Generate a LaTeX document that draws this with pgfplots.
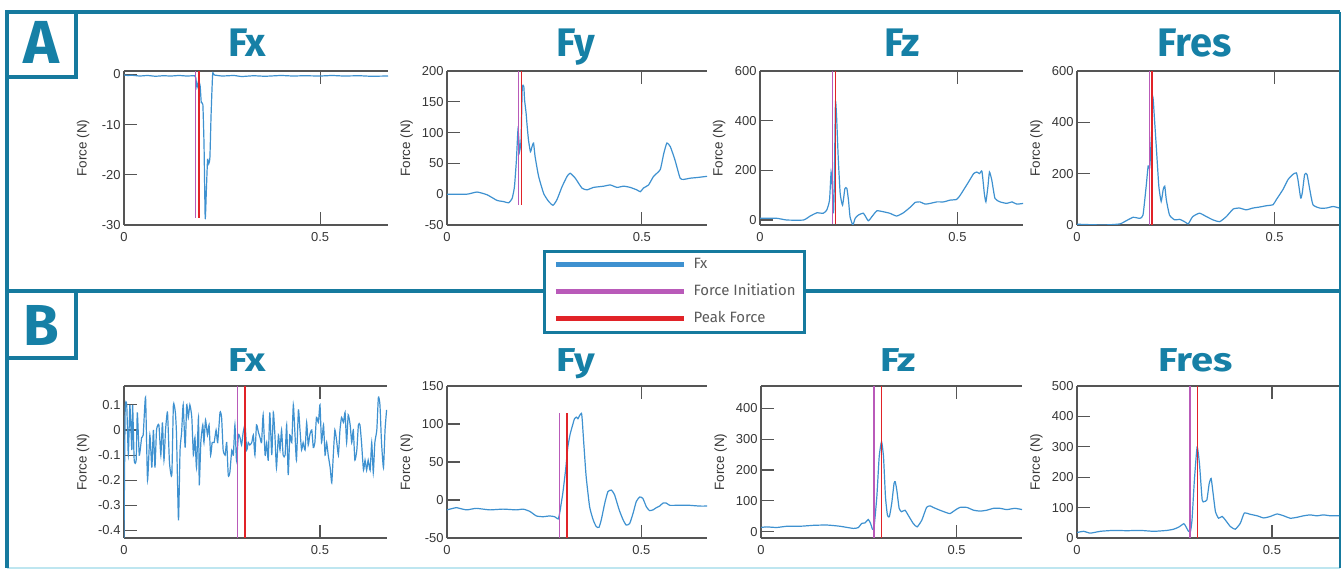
\documentclass[border=0pt]{standalone}
\usepackage{pgfplots}
\pgfplotsset{compat=1.18}
\usepackage{graphicx}
\usepackage{fontspec}
\setmainfont{Liberation Sans}
\newfontfamily\titlefont{Fira Sans}
\definecolor{frameteal}{RGB}{22,122,158}
\definecolor{titleteal}{RGB}{22,128,166}
\definecolor{lightcyan}{RGB}{190,230,240}
\definecolor{dblue}{RGB}{62,145,208}
\definecolor{initc}{RGB}{185,90,185}
\definecolor{peakc}{RGB}{225,35,40}
\definecolor{axgray}{RGB}{85,85,85}
\definecolor{tickgray}{RGB}{55,55,55}
\definecolor{legtext}{RGB}{90,90,90}
\pgfplotsset{
  panel/.style={
    scale only axis,
    axis x line*=box, axis y line*=left,
    axis line style={draw=axgray, line width=1.1bp, -},
    every tick/.style={draw=axgray, line width=1.1bp},
    tick align=inside, major tick length=13bp,
    xmin=0, xtick={0,0.5},
    every tick label/.append style={font=\fontsize{13}{15}\selectfont, text=tickgray},
    xticklabel style={yshift=-4bp},
    ylabel={Force (N)},
    every axis y label/.append style={font=\fontsize{13.5}{15}\selectfont, text=tickgray, at={(axis description cs:-0.155,0.5)}, anchor=center},
    every axis title/.append style={text=titleteal, anchor=base, yshift=9bp, font=\titlefont\bfseries\fontsize{40}{44}\selectfont},
    clip=true,
    /pgf/number format/assume math mode=true,
  },
  rowA/.style={panel, height=154bp},
  rowB/.style={panel, height=152bp},
  data/.style={dblue, line width=1.2bp, smooth, tension=0.3},
  init/.style={initc, line width=1.3bp},
  peak/.style={peakc, line width=1.3bp},
}
\begin{document}
\begin{tikzpicture}[x=1bp,y=1bp]
\useasboundingbox (0,0) rectangle (1342,569);
\fill[white] (0,0) rectangle (1342,569);
% frames
\draw[lightcyan, line width=2bp] (7,1) -- (1340,1);
\draw[frameteal, line width=3.5bp] (7,1) -- (7,557) -- (1340,557);
\draw[frameteal, line width=2.5bp] (1340,557) -- (1340,1);
\draw[frameteal, line width=3.5bp] (7,278) -- (1340,278);

% ---------------- Row A ----------------
\begin{axis}[rowA, at={(124bp,344bp)}, anchor=south west, width=264bp,
  xmax=0.673, ymin=-30, ymax=0.7, ytick={-30,-20,-10,0},
  title={Fx}, title style={at={(axis description cs:0.466,1)}}]
\addplot[data] coordinates {(0,-0.1)(0.01,-0.2)(0.02,-0.15)(0.04,-0.3)(0.06,-0.2)(0.08,-0.35)(0.1,-0.25)(0.12,-0.3)(0.14,-0.2)(0.16,-0.3)(0.18,-0.25)(0.183,-0.6)(0.186,-2.6)(0.19,-1.3)(0.194,-2.2)(0.197,-5.6)(0.201,-6)(0.204,-14)(0.207,-28.7)(0.21,-23)(0.213,-17)(0.216,-17.8)(0.219,-16.5)(0.222,-8)(0.226,0.1)(0.23,-0.1)(0.25,-0.3)(0.28,-0.2)(0.3,-0.4)(0.33,-0.25)(0.36,-0.35)(0.4,-0.2)(0.43,-0.3)(0.46,-0.25)(0.5,-0.3)(0.53,-0.2)(0.56,-0.3)(0.6,-0.25)(0.63,-0.35)(0.673,-0.3)};
\addplot[init] coordinates {(0.183,0.7)(0.183,-28.7)};
\addplot[peak] coordinates {(0.191,0.7)(0.191,-28.7)};
\end{axis}

\begin{axis}[rowA, at={(447bp,344bp)}, anchor=south west, width=260bp,
  xmax=0.667, ymin=-50, ymax=200, ytick={-50,0,50,100,150,200},
  title={Fy}, title style={at={(axis description cs:0.496,1)}},
  legend style={at={(axis description cs:0.369,-0.162)}, anchor=north west,
    draw=frameteal, line width=3bp, fill=white, inner xsep=9bp, inner ysep=7bp,
    row sep=14bp, font=\titlefont\fontsize{15}{17}\selectfont, text=legtext,
    nodes={inner sep=0bp, text height=10bp, text depth=3bp}, cells={anchor=west}},
  legend image code/.code={\draw[#1, line width=5bp] (0bp,0bp) -- (128bp,0bp); \path (137bp,0bp);},
  legend cell align=left]
\addplot[data] coordinates {(0,0)(0.051,0)(0.077,3.5)(0.103,-1)(0.128,-10)(0.145,-12)(0.158,-14)(0.167,-7)(0.173,12)(0.178,55)(0.182,104)(0.185,83)(0.186,69)(0.19,88)(0.193,172)(0.197,175)(0.199,153)(0.203,131)(0.205,115)(0.209,88)(0.214,69)(0.218,77)(0.222,83)(0.226,61)(0.235,29)(0.248,1)(0.261,-12)(0.272,-18)(0.282,-9)(0.295,12)(0.308,29)(0.316,34)(0.329,26)(0.346,10)(0.359,7)(0.376,11)(0.402,13)(0.419,15)(0.436,11)(0.453,13)(0.47,11)(0.487,7)(0.496,4)(0.504,10)(0.517,15)(0.53,29)(0.547,40)(0.556,66)(0.564,83)(0.573,77)(0.585,55)(0.598,26)(0.607,24)(0.624,26)(0.641,27)(0.667,29)};
\addlegendentry{Fx}
\addplot[init] coordinates {(0.183,200)(0.183,-17.5)};
\addlegendentry{Force Initiation}
\addplot[peak] coordinates {(0.191,200)(0.191,-17.5)};
\addlegendentry{Peak Force}
\end{axis}

\begin{axis}[rowA, at={(760bp,344bp)}, anchor=south west, width=263bp,
  xmax=0.666, ymin=-20, ymax=600, ytick={0,200,400,600},
  title={Fz}, title style={at={(axis description cs:0.54,1)}}]
\addplot[data] coordinates {(0,7)(0.042,7)(0.068,0)(0.11,0)(0.127,16)(0.144,29)(0.16,27)(0.169,40)(0.176,80)(0.18,193)(0.183,133)(0.186,27)(0.188,133)(0.191,473)(0.194,413)(0.198,253)(0.203,107)(0.209,60)(0.215,127)(0.22,127)(0.224,80)(0.228,13)(0.235,-20)(0.241,7)(0.249,20)(0.262,27)(0.274,-3)(0.283,13)(0.296,37)(0.313,33)(0.329,27)(0.346,16)(0.363,29)(0.38,51)(0.393,71)(0.405,73)(0.418,64)(0.431,67)(0.448,73)(0.465,73)(0.481,80)(0.498,83)(0.507,100)(0.515,120)(0.528,153)(0.541,187)(0.549,193)(0.556,187)(0.562,196)(0.568,107)(0.572,73)(0.577,133)(0.581,193)(0.587,160)(0.595,87)(0.608,73)(0.625,67)(0.638,73)(0.65,64)(0.667,67)};
\addplot[init] coordinates {(0.183,600)(0.183,-15)};
\addplot[peak] coordinates {(0.191,600)(0.191,-15)};
\end{axis}

\begin{axis}[rowA, at={(1077bp,344bp)}, anchor=south west, width=262bp,
  xmax=0.663, ymin=0, ymax=600, ytick={0,200,400,600},
  title={Fres}, title style={at={(axis description cs:0.45,1)}}]
\addplot[data] coordinates {(0,3)(0.066,0)(0.108,4)(0.125,17)(0.142,30)(0.159,26)(0.167,39)(0.175,151)(0.18,230)(0.184,223)(0.189,374)(0.192,498)(0.196,413)(0.201,295)(0.207,151)(0.213,92)(0.218,138)(0.222,151)(0.226,98)(0.234,39)(0.247,20)(0.26,22)(0.272,13)(0.281,4)(0.285,13)(0.293,33)(0.31,46)(0.327,33)(0.344,20)(0.361,13)(0.378,33)(0.395,62)(0.411,66)(0.428,59)(0.445,66)(0.462,70)(0.479,75)(0.496,79)(0.504,98)(0.521,138)(0.534,177)(0.546,197)(0.555,203)(0.559,177)(0.566,105)(0.57,125)(0.576,197)(0.582,197)(0.589,138)(0.597,79)(0.614,66)(0.631,66)(0.648,72)(0.664,66)};
\addplot[init] coordinates {(0.184,600)(0.184,0)};
\addplot[peak] coordinates {(0.19,600)(0.19,0)};
\end{axis}

% ---------------- Row B ----------------
\begin{axis}[rowB, at={(124bp,31bp)}, anchor=south west, width=263bp,
  xmax=0.671, ymin=-0.43, ymax=0.175, ytick={-0.4,-0.3,-0.2,-0.1,0,0.1},
  title={\scalebox{1}[0.83]{Fx}}, title style={at={(axis description cs:0.47,1)}}]
\addplot[data] coordinates {(0,-0.43)(0.003,0.08)(0.007,0.1)(0.011,-0.1)(0.015,0.1)(0.020,-0.08)(0.022,0.1)(0.026,-0.12)(0.031,-0.12)(0.034,0.07)(0.039,-0.1)(0.045,-0.03)(0.049,-0.02)(0.055,0.13)(0.060,-0.2)(0.066,-0.02)(0.071,-0.15)(0.075,0)(0.079,-0.15)(0.083,0)(0.089,0.02)(0.094,-0.1)(0.098,0.03)(0.102,-0.12)(0.106,0)(0.111,0.07)(0.116,-0.13)(0.122,-0.18)(0.126,0.1)(0.131,0.07)(0.134,-0.02)(0.139,-0.36)(0.143,-0.08)(0.147,-0.01)(0.151,0.1)(0.156,-0.07)(0.160,0.1)(0.164,0.05)(0.168,0.1)(0.173,0.05)(0.177,-0.1)(0.181,-0.03)(0.185,-0.15)(0.190,0.05)(0.192,-0.22)(0.196,-0.05)(0.201,0.02)(0.204,-0.05)(0.208,0.04)(0.213,-0.02)(0.217,0.02)(0.221,-0.1)(0.225,-0.05)(0.230,-0.05)(0.235,0)(0.239,-0.05)(0.245,0.07)(0.249,0.05)(0.253,-0.08)(0.258,-0.1)(0.262,-0.05)(0.266,-0.18)(0.270,-0.17)(0.275,-0.08)(0.279,-0.1)(0.283,0.02)(0.287,-0.12)(0.292,-0.02)(0.296,-0.03)(0.300,-0.06)(0.304,-0.01)(0.309,0.02)(0.313,-0.08)(0.317,-0.05)(0.321,-0.06)(0.326,-0.05)(0.330,-0.02)(0.334,-0.1)(0.338,0.02)(0.343,-0.01)(0.347,-0.03)(0.351,-0.05)(0.355,0.06)(0.360,-0.1)(0.364,-0.05)(0.368,-0.12)(0.372,0.07)(0.377,-0.1)(0.381,0.07)(0.385,-0.02)(0.389,-0.15)(0.394,-0.02)(0.398,-0.08)(0.402,0)(0.406,-0.1)(0.411,-0.1)(0.415,0.02)(0.419,-0.18)(0.423,-0.02)(0.428,-0.05)(0.432,0.1)(0.436,-0.01)(0.440,-0.12)(0.445,0.08)(0.449,0)(0.453,-0.08)(0.457,-0.05)(0.462,-0.08)(0.466,0.03)(0.470,-0.06)(0.474,-0.02)(0.479,0)(0.483,-0.07)(0.487,-0.05)(0.491,0.05)(0.496,0.03)(0.500,0.1)(0.504,-0.05)(0.509,0.02)(0.513,-0.1)(0.517,-0.05)(0.521,-0.1)(0.526,-0.15)(0.530,-0.21)(0.534,-0.1)(0.538,0)(0.543,-0.05)(0.547,-0.1)(0.551,0)(0.555,0.05)(0.560,0.03)(0.564,0.07)(0.568,-0.05)(0.572,0.06)(0.577,0.02)(0.581,-0.05)(0.585,0)(0.589,-0.12)(0.594,-0.08)(0.598,0.02)(0.602,0.02)(0.606,-0.05)(0.611,-0.16)(0.615,-0.12)(0.619,-0.16)(0.623,-0.12)(0.628,-0.16)(0.632,-0.05)(0.636,-0.17)(0.640,-0.05)(0.645,0)(0.649,0.13)(0.653,0.1)(0.657,-0.05)(0.662,-0.15)(0.666,0)(0.670,0.08)};
\addplot[init] coordinates {(0.29,0.175)(0.29,-0.43)};
\addplot[peak] coordinates {(0.309,0.175)(0.309,-0.43)};
\end{axis}

\begin{axis}[rowB, at={(447bp,31bp)}, anchor=south west, width=260bp,
  xmax=0.669, ymin=-50, ymax=150, ytick={-50,0,50,100,150},
  title={\scalebox{1}[0.83]{Fy}}, title style={at={(axis description cs:0.496,1)}}]
\addplot[data] coordinates {(0,-13)(0.015,-11)(0.024,-10)(0.05,-13)(0.075,-11)(0.11,-13)(0.144,-12)(0.178,-13)(0.196,-12)(0.213,-15)(0.23,-21)(0.247,-22)(0.264,-21)(0.277,-22)(0.286,-25)(0.29,-17)(0.294,-4)(0.298,9)(0.305,39)(0.311,70)(0.317,87)(0.324,100)(0.328,107)(0.333,109)(0.337,107)(0.341,111)(0.346,114)(0.348,105)(0.352,74)(0.358,31)(0.367,-9)(0.376,-26)(0.384,-35)(0.391,-36)(0.397,-26)(0.406,-4)(0.414,11)(0.423,13)(0.431,7)(0.443,-13)(0.453,-26)(0.461,-33)(0.47,-31)(0.479,-17)(0.487,-2)(0.496,4)(0.504,2)(0.513,-9)(0.521,-14)(0.53,-13)(0.539,-10)(0.547,-8)(0.556,-4)(0.564,-4)(0.573,-7)(0.59,-7)(0.607,-7)(0.624,-7)(0.65,-8)(0.669,-8)};
\addplot[init] coordinates {(0.29,114)(0.29,-50)};
\addplot[peak] coordinates {(0.309,114)(0.309,-50)};
\end{axis}

\begin{axis}[rowB, at={(761bp,31bp)}, anchor=south west, width=261bp,
  xmax=0.667, ymin=-20, ymax=472, ytick={0,100,200,300,400},
  title={\scalebox{1}[0.83]{Fz}}, title style={at={(axis description cs:0.525,1)}}]
\addplot[data] coordinates {(0,14)(0.014,16)(0.04,14)(0.066,18)(0.1,18)(0.134,21)(0.168,22)(0.202,18)(0.236,11)(0.249,14)(0.257,27)(0.266,29)(0.274,40)(0.28,27)(0.285,8)(0.289,16)(0.296,114)(0.302,243)(0.308,292)(0.313,243)(0.318,114)(0.323,54)(0.328,49)(0.334,92)(0.34,157)(0.343,162)(0.347,135)(0.353,76)(0.359,65)(0.368,70)(0.376,54)(0.389,27)(0.399,16)(0.411,38)(0.423,79)(0.432,84)(0.44,79)(0.457,70)(0.474,62)(0.483,59)(0.496,70)(0.508,79)(0.526,79)(0.543,70)(0.56,67)(0.577,70)(0.594,76)(0.611,76)(0.628,72)(0.649,76)(0.667,72)};
\addplot[init] coordinates {(0.289,472)(0.289,-20)};
\addplot[peak] coordinates {(0.308,472)(0.308,-20)};
\end{axis}

\begin{axis}[rowB, at={(1077bp,31bp)}, anchor=south west, width=262bp,
  xmax=0.672, ymin=0, ymax=500, ytick={0,100,200,300,400,500},
  title={\scalebox{1}[0.83]{Fres}}, title style={at={(axis description cs:0.453,1)}}]
\addplot[data] coordinates {(0,18)(0.017,22)(0.034,16)(0.06,22)(0.094,25)(0.128,24)(0.162,25)(0.197,22)(0.231,25)(0.248,29)(0.261,36)(0.274,47)(0.279,38)(0.286,22)(0.291,22)(0.295,60)(0.301,190)(0.308,299)(0.314,245)(0.321,125)(0.326,120)(0.333,125)(0.339,179)(0.344,196)(0.349,147)(0.355,87)(0.363,65)(0.372,71)(0.38,60)(0.393,38)(0.406,29)(0.419,49)(0.429,82)(0.444,78)(0.462,73)(0.479,66)(0.496,71)(0.513,79)(0.53,73)(0.547,65)(0.564,68)(0.581,73)(0.598,76)(0.615,73)(0.632,76)(0.65,73)(0.672,73)};
\addplot[init] coordinates {(0.29,500)(0.29,0)};
\addplot[peak] coordinates {(0.309,500)(0.309,0)};
\end{axis}

% panel label boxes
\draw[frameteal, line width=3.5bp, fill=white] (7,492) rectangle (76,557);
\node[text=titleteal, font=\titlefont\bfseries\fontsize{61}{64}\selectfont] at (41,527) {A};
\draw[frameteal, line width=3.5bp, fill=white] (7,211) rectangle (76,278);
\node[text=titleteal, font=\titlefont\bfseries\fontsize{58}{62}\selectfont] at (41,244) {B};
\end{tikzpicture}
\end{document}
